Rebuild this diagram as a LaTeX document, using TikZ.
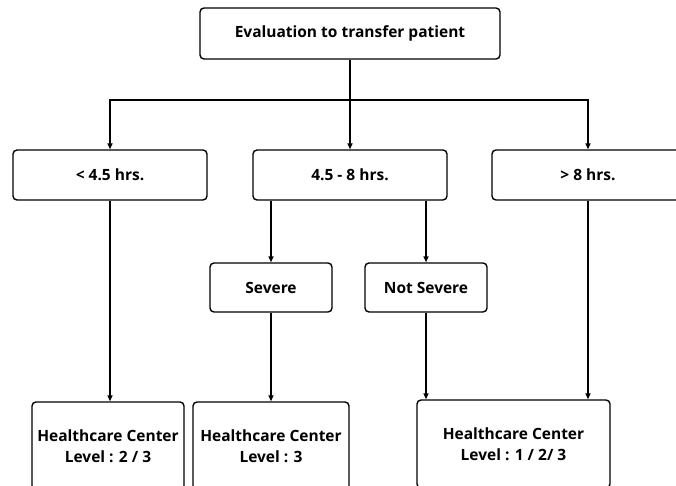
\documentclass[tikz,border=0pt]{standalone}
\usepackage{fontspec}
\setmainfont{Open Sans}
\usetikzlibrary{arrows.meta}
\begin{document}
\begin{tikzpicture}[x=1pt,y=-1pt,
  box/.style={draw, line width=1.4pt, rounded corners=4pt, inner sep=0pt,
    align=center, font=\fontsize{15.5}{21}\selectfont\bfseries},
  link/.style={line width=1.4pt},
  arr/.style={link, -{Triangle[length=6pt,width=5pt]}}]
\clip (0,0) rectangle (676,486);
\fill[white] (0,0) rectangle (676,486);

% decision boxes
\node[box, minimum width=300pt, minimum height=51pt] (top) at (350,33.5) {Evaluation to transfer patient};
\node[box, minimum width=194pt, minimum height=50pt] (lt) at (110,175) {< 4.5 hrs.};
\node[box, minimum width=194pt, minimum height=50pt] (mid) at (350,175) {4.5 - 8 hrs.};
\node[box, minimum width=192pt, minimum height=50pt] (rt) at (588,175) {> 8 hrs.};
\node[box, minimum width=122pt, minimum height=49pt] (sev) at (271,287.5) {Severe};
\node[box, minimum width=122pt, minimum height=49pt] (ns) at (426,287.5) {Not Severe};

% destination boxes
\node[box, minimum width=152pt, minimum height=88pt] (hc1) at (108,446) {Healthcare Center\\Level : 2 / 3};
\node[box, minimum width=156pt, minimum height=88pt] (hc2) at (271,446) {Healthcare Center\\Level : 3};
\node[box, minimum width=193pt, minimum height=88pt] (hc3) at (513.5,444) {Healthcare Center\\Level : 1 / 2/ 3};

% branching from the evaluation box
\coordinate (j) at (350,100);
\draw[link] (top.south) -- (j);
\draw[arr] (j) -| (lt.north);
\draw[arr] (j) -- (mid.north);
\draw[arr] (j) -| (rt.north);

% second level
\draw[arr] (sev.north |- mid.south) -- (sev.north);
\draw[arr] (ns.north |- mid.south) -- (ns.north);

% to the healthcare centers
\draw[arr] (lt.south) -- (lt.south |- hc1.north);
\draw[arr] (sev.south) -- (hc2.north -| sev.south);
\draw[arr] (ns.south) -- (ns.south |- hc3.north);
\draw[arr] (rt.south) -- (rt.south |- hc3.north);
\end{tikzpicture}
\end{document}
